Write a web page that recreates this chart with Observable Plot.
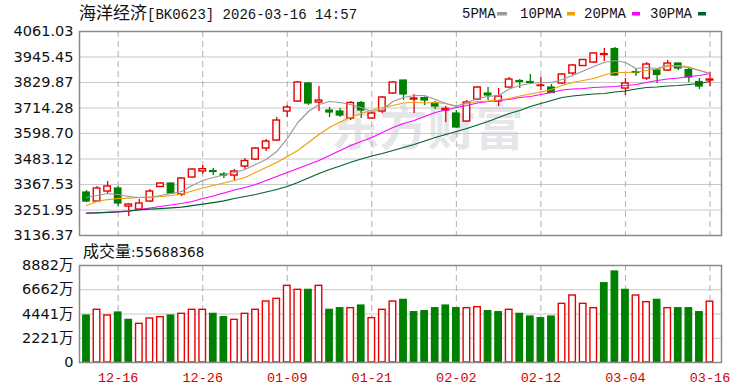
<!DOCTYPE html>
<html><head><meta charset="utf-8">
<script src="https://cdn.jsdelivr.net/npm/d3@7"></script>
<script src="https://cdn.jsdelivr.net/npm/@observablehq/plot@0.6"></script>
<style>
html,body{margin:0;padding:0;background:#fff;}
#wrap{position:relative;width:750px;height:391px;overflow:hidden;background:#fff;}
#wrap > svg{position:absolute;left:0;}
</style></head><body><div id="wrap"></div>
<script>
const dates = ["12-11","12-12","12-15","12-16","12-17","12-18","12-19","12-22","12-23","12-24","12-25","12-26","12-29","12-30","12-31",
"01-05","01-06","01-07","01-08","01-09","01-12","01-13","01-14","01-15","01-16","01-19","01-20","01-21","01-22","01-23","01-26","01-27","01-28","01-29","01-30",
"02-02","02-03","02-04","02-05","02-06","02-09","02-10","02-11","02-12","02-13","02-24","02-25","02-26","02-27",
"03-02","03-03","03-04","03-05","03-06","03-09","03-10","03-11","03-12","03-13","03-16"];
const open = [3331.2,3290.4,3335.7,3349.3,3267.7,3254.1,3290.4,3356.1,3372.0,3322.1,
3399.2,3426.4,3428.6,3412.8,3408.2,3449.0,3480.8,3530.6,3566.9,3698.3,
3743.7,3825.3,3739.1,3702.9,3698.3,3666.6,3736.9,3666.6,3698.3,3779.9,
3838.9,3752.7,3759.5,3736.0,3702.9,3689.3,3653.0,3752.7,3779.9,3743.7,
3807.1,3836.6,3832.1,3813.9,3807.1,3825.3,3870.6,3904.6,3920.5,3954.5,
3981.6,3802.6,3877.4,3847.9,3884.2,3884.2,3915.9,3886.5,3832.1,3838.9];
const close = [3290.4,3349.3,3358.4,3281.3,3276.8,3281.3,3335.7,3372.0,3326.6,3394.6,
3435.4,3437.0,3424.1,3408.2,3426.4,3474.0,3530.6,3562.3,3657.5,3716.5,
3829.8,3734.6,3748.2,3693.8,3680.2,3736.9,3702.9,3689.3,3761.8,3829.8,
3775.4,3757.3,3748.2,3721.0,3709.7,3625.8,3739.1,3807.1,3770.9,3766.3,
3843.4,3832.1,3827.5,3816.2,3782.2,3866.1,3906.9,3931.8,3961.5,3958.5,
3861.5,3825.3,3872.9,3911.4,3863.8,3915.9,3893.3,3852.5,3811.7,3843.4];
const high = [3340.2,3358.4,3381.0,3358.4,3281.3,3299.4,3344.8,3376.5,3372.0,3399.2,
3440.0,3453.6,3440.0,3421.8,3435.4,3485.3,3535.1,3571.4,3671.1,3725.5,
3834.3,3829.8,3811.7,3716.5,3711.9,3743.7,3743.7,3693.8,3766.3,3834.3,
3840.0,3775.4,3764.1,3743.7,3721.0,3702.9,3748.2,3811.7,3807.1,3802.6,
3852.5,3843.4,3866.1,3852.5,3820.7,3870.6,3911.4,3934.1,3963.0,3983.9,
3988.4,3847.9,3888.7,3920.5,3888.7,3929.5,3918.2,3893.3,3847.9,3875.1];
const low = [3285.8,3285.8,3326.6,3267.7,3222.4,3249.6,3285.8,3353.8,3322.1,3313.0,
3397.0,3412.8,3408.2,3394.6,3385.6,3435.4,3476.2,3517.0,3562.3,3671.1,
3739.1,3725.5,3698.3,3671.1,3671.1,3657.5,3666.6,3662.1,3689.3,3775.4,
3748.2,3689.3,3725.5,3707.4,3648.5,3621.3,3648.5,3750.4,3748.2,3721.0,
3804.9,3802.6,3825.3,3793.5,3779.9,3820.7,3861.5,3902.3,3915.9,3925.0,
3857.0,3770.9,3857.0,3838.9,3825.3,3879.7,3884.2,3829.8,3798.1,3811.7];
const ma5 = [3308.5,3317.6,3326.6,3322.1,3313.0,3308.5,3308.5,3317.6,3326.6,3335.7,
3362.9,3385.6,3399.2,3410.5,3421.8,3435.4,3458.1,3480.8,3517.0,3575.9,
3648.5,3698.3,3730.1,3743.7,3739.1,3730.1,3716.5,3698.3,3707.4,3743.7,
3761.8,3770.9,3770.9,3752.7,3734.6,3721.0,3739.1,3757.3,3766.3,3770.9,
3800.3,3816.2,3825.3,3829.8,3829.8,3843.4,3861.5,3881.9,3902.3,3920.5,
3929.5,3920.5,3893.3,3897.8,3893.3,3909.1,3902.3,3897.8,3884.2,3870.6];
const ma10 = [3272.2,3290.4,3299.4,3304.0,3306.2,3308.5,3310.8,3313.0,3317.6,3324.4,
3338.0,3351.6,3362.9,3374.2,3385.6,3399.2,3421.8,3444.5,3467.2,3494.4,
3521.5,3557.8,3594.1,3625.8,3650.7,3671.1,3689.3,3705.1,3716.5,3725.5,
3736.9,3741.4,3736.9,3739.1,3734.6,3723.3,3734.6,3743.7,3745.9,3750.5,
3757.3,3768.6,3777.7,3786.7,3798.1,3816.2,3829.8,3838.9,3847.9,3863.8,
3875.1,3875.1,3877.4,3884.2,3891.0,3902.3,3906.9,3900.1,3884.2,3870.6];
const ma20 = [3238.2,3239.6,3241.4,3243.7,3246.9,3254.1,3260.9,3267.7,3274.5,3281.3,
3290.4,3304.0,3315.3,3328.9,3342.5,3353.8,3367.4,3385.6,3403.7,3421.8,
3440.0,3458.1,3476.2,3498.9,3521.5,3544.2,3562.3,3580.5,3603.1,3625.8,
3643.9,3657.5,3675.7,3693.8,3705.1,3716.5,3725.5,3736.9,3743.7,3748.2,
3752.7,3761.8,3766.3,3775.4,3784.5,3795.8,3800.3,3802.6,3807.1,3809.4,
3811.7,3816.2,3820.7,3829.8,3838.9,3845.7,3850.2,3857.0,3861.5,3870.6];
const ma30 = [3237.3,3239.1,3241.4,3244.1,3247.3,3252.7,3255.5,3258.6,3261.8,3265.4,
3272.2,3279.0,3285.8,3293.5,3304.0,3313.0,3322.1,3333.4,3344.8,3358.4,
3376.5,3396.9,3417.3,3435.4,3451.3,3468.5,3483.0,3496.6,3508.0,3521.5,
3535.1,3548.7,3564.6,3580.5,3594.1,3607.7,3621.3,3637.1,3653.0,3671.1,
3689.3,3702.9,3721.0,3734.6,3748.2,3761.8,3768.6,3773.1,3777.7,3779.9,
3786.7,3791.3,3800.3,3807.1,3809.4,3813.9,3816.2,3820.7,3825.3,3834.3];
// volume in 万
const volume = [4304,4826,4304,4579,3907,3541,4029,4151,4304,4457,
4826,4826,4457,4151,3907,4457,4826,5586,5830,7021,
6654,6654,7021,4826,4975,4975,5219,4060,4826,5586,
5738,4609,4701,4975,5219,4975,4975,5066,4701,4609,
4826,4457,4212,4060,4212,5372,6135,5372,4975,7264,
8333,6654,6135,5525,5738,4975,4975,4975,4609,5569];
const volDir = ["down","up","up","down","down","up","up","up","down","up",
"up","up","down","down","up","up","up","up","up","up",
"up","down","up","down","down","up","down","up","up","up",
"down","down","down","down","down","down","up","up","down","down",
"up","down","down","down","down","up","up","up","up","down",
"down","down","up","up","down","up","down","down","down","up"];
const priceTicks = [3136.37,3251.95,3367.53,3483.12,3598.70,3714.28,3829.87,3945.45,4061.03];
const volTicks = [0,2221,4441,6662,8882];
const xTickLabels = ["12-16","12-26","01-09","01-21","02-02","02-12","03-04","03-16"];

const rows = dates.map((d, i) => ({i, date: d, open: open[i], close: close[i], high: high[i], low: low[i],
  ma5: ma5[i], ma10: ma10[i], ma20: ma20[i], ma30: ma30[i], vol: volume[i], dir: volDir[i]}));
const upRows = rows.filter(d => d.close >= d.open);
const downRows = rows.filter(d => d.close < d.open);
const volUp = rows.filter(d => d.dir === "up");
const volDown = rows.filter(d => d.dir === "down");
const RED = "#e60000", GREEN = "#008000";
const xDomain = [-0.66, 60.09];
const tickIdx = xTickLabels.map(l => dates.indexOf(l));
const half = 0.31;

const price = Plot.plot({
  width: 750, height: 240, marginLeft: 79, marginRight: 29, marginTop: 31, marginBottom: 5,
  style: {background: "transparent", overflow: "visible"},
  x: {domain: xDomain, axis: null},
  y: {domain: [3136.37, 4061.03], axis: null},
  marks: [
    Plot.text(["东方财富"], {frameAnchor: "middle", dx: 27, dy: -4, fontSize: 48, fontWeight: "bold", fill: "#e6e6ea", fontFamily: "Noto Sans CJK SC"}),
    Plot.gridY(priceTicks, {stroke: "#c8c8c8", strokeOpacity: 1}),
    Plot.gridX(tickIdx, {stroke: "#b0b0b0", strokeOpacity: 1, strokeDasharray: "6,4"}),
    Plot.axisY(priceTicks, {label: null, tickFormat: d => d.toFixed(2), tickSize: 0, tickPadding: 6, fontSize: 14.5, fontFamily: "DejaVu Sans", fill: "#111"}),
    Plot.ruleX(upRows, {x: "i", y1: "low", y2: "high", stroke: RED, strokeWidth: 1.3}),
    Plot.ruleX(downRows, {x: "i", y1: "low", y2: "high", stroke: GREEN, strokeWidth: 1.3}),
    Plot.rect(upRows, {x1: d => d.i - half, x2: d => d.i + half, y1: "open", y2: "close", fill: "#fff", stroke: RED, strokeWidth: 1.4}),
    Plot.rect(downRows, {x1: d => d.i - half, x2: d => d.i + half, y1: "open", y2: "close", fill: GREEN, stroke: GREEN, strokeWidth: 1.2}),
    Plot.line(rows, {x: "i", y: "ma20", stroke: "#ff00ff", strokeWidth: 1.2}),
    Plot.line(rows, {x: "i", y: "ma30", stroke: "#00602b", strokeWidth: 1.2}),
    Plot.line(rows, {x: "i", y: "ma10", stroke: "#f0a000", strokeWidth: 1.2}),
    Plot.line(rows, {x: "i", y: "ma5", stroke: "#9a9a9a", strokeWidth: 1.2}),
    Plot.frame({stroke: "#8a8a8a", strokeWidth: 1.5})
  ]
});
price.style.top = "0px";

const vol = Plot.plot({
  width: 750, height: 151, marginLeft: 79, marginRight: 29, marginTop: 25, marginBottom: 29,
  style: {background: "transparent", overflow: "visible"},
  x: {domain: xDomain, axis: null},
  y: {domain: [0, 8882], axis: null},
  marks: [
    Plot.gridY(volTicks, {stroke: "#c8c8c8", strokeOpacity: 1}),
    Plot.gridX(tickIdx, {stroke: "#b0b0b0", strokeOpacity: 1, strokeDasharray: "6,4"}),
    Plot.axisY(volTicks, {label: null, tickFormat: d => d === 0 ? "0" : d + "万", tickSize: 0, tickPadding: 6, fontSize: 14.5, fontFamily: "DejaVu Sans, Noto Sans CJK SC", fill: "#111"}),
    Plot.axisX(tickIdx, {label: null, tickFormat: i => dates[i], tickSize: 0, tickPadding: 10, fontSize: 13.5, fontFamily: "Liberation Mono", fill: "#d40000"}),
    Plot.rectY(volUp, {x1: d => d.i - half, x2: d => d.i + half, y: "vol", fill: "#fff", stroke: RED, strokeWidth: 1.4}),
    Plot.rectY(volDown, {x1: d => d.i - half, x2: d => d.i + half, y: "vol", fill: GREEN, stroke: GREEN, strokeWidth: 1.2}),
    Plot.frame({stroke: "#8a8a8a", strokeWidth: 1.5})
  ]
});
vol.style.top = "240px";

const wrap = document.getElementById("wrap");
wrap.appendChild(price);
wrap.appendChild(vol);

const ns = "http://www.w3.org/2000/svg";
const ov = document.createElementNS(ns, "svg");
ov.setAttribute("width", 750); ov.setAttribute("height", 391);
ov.style.top = "0px"; ov.style.pointerEvents = "none";
ov.innerHTML = `
<text x="79" y="19" font-size="17" font-family="Noto Sans CJK SC" fill="#111">海洋经济<tspan font-family="Liberation Mono" font-size="14">[BK0623] 2026-03-16 14:57</tspan></text>
<g font-family="Liberation Mono" font-size="14" fill="#111">
<text x="462" y="18">5PMA</text><rect x="497" y="12" width="10" height="3.5" fill="#9a9a9a"/>
<text x="520" y="18">10PMA</text><rect x="567" y="12" width="8" height="3.5" fill="#f0a000"/>
<text x="584" y="18">20PMA</text><rect x="632" y="12" width="8" height="3.5" fill="#ff00ff"/>
<text x="650" y="18">30PMA</text><rect x="698" y="12" width="8" height="3.5" fill="#00602b"/>
</g>
<text x="83" y="257" fill="#111"><tspan font-family="Noto Sans CJK SC" font-size="16">成交量</tspan><tspan font-family="DejaVu Sans" font-size="13.5">:55688368</tspan></text>
`;
wrap.appendChild(ov);
</script></body></html>
